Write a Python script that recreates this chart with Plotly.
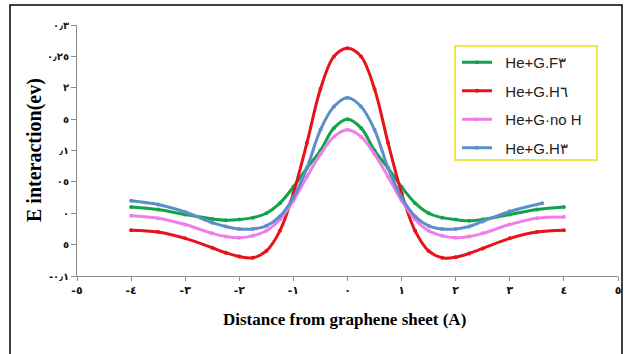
import plotly.graph_objects as go

# ---- data ----
x_full = [-4, -3.5, -3, -2.5, -2.25, -2, -1.75, -1.5, -1.25, -1, -0.75, -0.5, -0.25, 0,
          0.25, 0.5, 0.75, 1, 1.25, 1.5, 1.75, 2, 2.25, 2.5, 3, 3.5, 4]
x_blue = [-4, -3.5, -3, -2.5, -2.25, -2, -1.75, -1.5, -1.25, -1, -0.75, -0.5, -0.25, 0,
          0.25, 0.5, 0.75, 1, 1.25, 1.5, 1.75, 2, 2.25, 2.5, 3, 3.6]

green = [0.010, 0.006, -0.002, -0.009, -0.011, -0.010, -0.007, 0.000, 0.016, 0.042, 0.072, 0.100, 0.136, 0.150,
         0.136, 0.100, 0.072, 0.042, 0.016, 0.000, -0.007, -0.010, -0.012, -0.010, -0.002, 0.006, 0.010]
red = [-0.027, -0.030, -0.040, -0.055, -0.063, -0.069, -0.071, -0.060, -0.028, 0.032, 0.112, 0.198, 0.250, 0.263,
       0.250, 0.198, 0.112, 0.032, -0.028, -0.060, -0.071, -0.070, -0.064, -0.056, -0.040, -0.030, -0.027]
pink = [-0.004, -0.008, -0.018, -0.032, -0.037, -0.039, -0.036, -0.028, -0.010, 0.020, 0.058, 0.094, 0.122, 0.133,
        0.122, 0.094, 0.058, 0.020, -0.010, -0.028, -0.036, -0.039, -0.037, -0.032, -0.018, -0.008, -0.006]
blue = [0.020, 0.014, 0.002, -0.015, -0.021, -0.025, -0.025, -0.020, -0.005, 0.025, 0.072, 0.133, 0.170, 0.184,
        0.170, 0.133, 0.072, 0.025, -0.005, -0.020, -0.025, -0.025, -0.021, -0.013, 0.003, 0.016]

names = ["He+G.F٣", "He+G.H٦", "He+G·no H", "He+G.H٣"]
colors = ["#12a24b", "#e8121a", "#ee7ee8", "#5b8fcb"]

x_ticks = [-5, -4, -3, -2, -1, 0, 1, 2, 3, 4, 5]
x_ticklabels = ["-٥", "-٤", "-٣", "-٢", "-١", "٠", "١", "٢", "٣", "٤", "٥"]
y_ticks = [-0.1, -0.05, 0, 0.05, 0.1, 0.15, 0.2, 0.25, 0.3]
y_ticklabels = ["-٠٫١", "٥", "٠", "٠٥", "٫١", "٥", "٢", "٠٫٢٥", "٠٫٣"]

fig = go.Figure()
series = [(x_full, green), (x_full, red), (x_full, pink), (x_blue, blue)]
for i, ((xs, ys), nm, c) in enumerate(zip(series, names, colors)):
    fig.add_trace(go.Scatter(
        x=xs, y=ys, name="\u00a0\u00a0" + nm, mode="lines+markers",
        line=dict(color=c, width=3, shape="spline", smoothing=1.0),
        marker=dict(color=c, size=4),
        legendgroup=f"g{i}",
    ))

W, H = 625, 354
# plot area in reference pixels: x 77..618, y 25..276
L, R, T, B = 77, 625 - 618, 25, 354 - 276
pw, ph = W - L - R, H - T - B

def px_x(p):
    return (p - L) / pw

def px_y(p):
    return (H - B - p) / ph

fig.update_layout(
    width=W, height=H,
    margin=dict(l=L, r=R, t=T, b=B, autoexpand=False),
    paper_bgcolor="white", plot_bgcolor="white",
    showlegend=True,
    legend=dict(
        x=px_x(457), y=px_y(46), xanchor="left", yanchor="top",
        borderwidth=0, bgcolor="rgba(255,255,255,0)",
        font=dict(family="Liberation Sans, Arial", size=15, color="#222"),
        tracegroupgap=6,
    ),
    xaxis=dict(
        range=[-5, 5], tickmode="array", tickvals=x_ticks, ticktext=x_ticklabels,
        showgrid=False, zeroline=False, showline=True, linecolor="#8c8c8c", linewidth=1,
        ticks="outside", ticklen=4, tickcolor="#8c8c8c",
        tickfont=dict(family="DejaVu Sans", size=11, color="#111", weight="bold"),
    ),
    yaxis=dict(
        range=[-0.1, 0.3], tickmode="array", tickvals=y_ticks, ticktext=y_ticklabels,
        showgrid=False, zeroline=False, showline=True, linecolor="#8c8c8c", linewidth=1,
        ticks="outside", ticklen=5, tickcolor="#8c8c8c",
        tickfont=dict(family="DejaVu Sans", size=10, color="#111", weight="bold"),
    ),
    shapes=[
        dict(type="rect", xref="paper", yref="paper",
             x0=px_x(10), x1=px_x(622), y0=px_y(370), y1=px_y(5),
             line=dict(color="black", width=1.5), fillcolor="rgba(0,0,0,0)", layer="below"),
        dict(type="rect", xref="paper", yref="paper",
             x0=px_x(455), x1=px_x(597), y0=px_y(160), y1=px_y(46),
             line=dict(color="#f0e64a", width=2), fillcolor="white", layer="below"),
    ],
    annotations=[
        dict(text="<b>E interaction(ev)</b>", xref="paper", yref="paper",
             x=px_x(34), y=px_y(150), textangle=-90, showarrow=False,
             xanchor="center", yanchor="middle",
             font=dict(family="Liberation Serif, Times New Roman", size=20, color="black")),
        dict(text="<b>Distance from graphene sheet (A)</b>", xref="paper", yref="paper",
             x=px_x(344), y=px_y(319), showarrow=False,
             xanchor="center", yanchor="middle",
             font=dict(family="Liberation Serif, Times New Roman", size=17, color="black")),
    ],
)

fig.write_html("out.html", config={"displayModeBar": False},
               post_script="document.body.style.margin='0';")
